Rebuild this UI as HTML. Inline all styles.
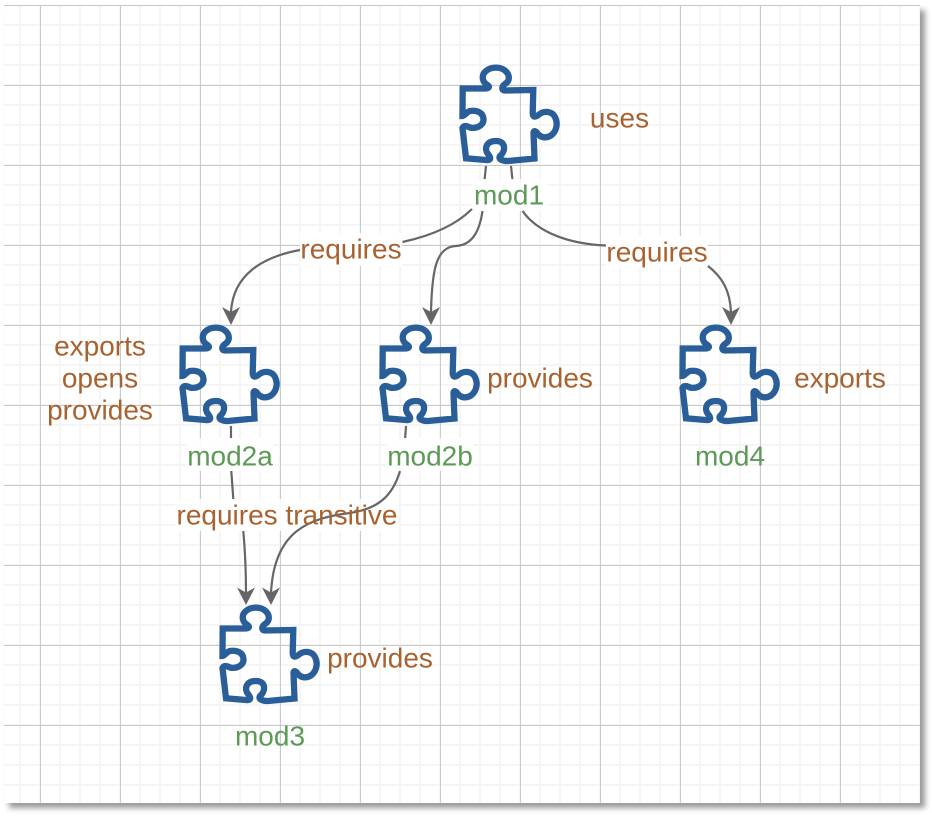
<!DOCTYPE html>
<html>
<head>
<meta charset="utf-8">
<style>
html,body{margin:0;padding:0;background:#fff;width:932px;height:816px;overflow:hidden}
svg{position:absolute;left:0;top:0;display:block}
text{font-family:"Liberation Sans",Arial,sans-serif;font-size:28px;text-anchor:middle}
.b{fill:#a8622f}
.g{fill:#5c9a55}
.c{fill:none;stroke:#666;stroke-width:2.2}
.a{fill:#666;stroke:none}
</style>
</head>
<body>
<svg width="932" height="816" viewBox="0 0 932 816" xmlns="http://www.w3.org/2000/svg">
<defs>
<pattern id="minor" width="20" height="20" patternUnits="userSpaceOnUse" patternTransform="translate(19 4)">
<rect x="0" y="0" width="2" height="20" fill="#f5f5f5"/>
<rect x="0" y="0" width="20" height="2" fill="#f5f5f5"/>
</pattern>
<pattern id="major" width="80" height="80" patternUnits="userSpaceOnUse" patternTransform="translate(40 5)">
<rect x="0" y="0" width="1" height="80" fill="#c9c9c9"/>
<rect x="0" y="0" width="80" height="1" fill="#c9c9c9"/>
</pattern>
<filter id="sh" x="-3%" y="-3%" width="108%" height="108%">
<feGaussianBlur stdDeviation="3"/>
</filter>
<path id="pz" d="M22.700 38.500 L45 38.500 C49 38.500 50 37 47.500 35 C42 32 41 25 46 21 C51 16.500 61 16.500 65.500 21 C70 25 70 31 65 34 C62 36 61 40 64.500 40.500 L93.300 40 L92.700 63 C93 68 96 67 99 64.500 C104 60.500 112 61 115 67 C118 73 117 81 111 85.500 C105 89 100 87 97.500 83.500 C96 81 93.500 80 93.500 83 L94.500 108.500 L68 111 C62 111 58 109 60 106 C66 101 66 91 56 91 C46 91 44 99 48 104 C52 109 50 110.500 46 110 L26 108.300 L22.500 78 C24 75 27 76 30 77.500 C37 79 44 75 43.500 69 C43 62 36 60 30 61 C27 61.500 24.500 66 22.500 66 Z" fill="none" stroke="#2a5e98" stroke-width="6.300" stroke-linejoin="miter"/>
</defs>

<rect x="9" y="10" width="916" height="798" fill="#555" opacity=".6" filter="url(#sh)"/>
<rect x="4" y="5" width="916" height="798" fill="#fff"/>
<rect x="4" y="5" width="916" height="798" fill="url(#minor)"/>
<rect x="4" y="5" width="916" height="798" fill="url(#major)"/>

<use href="#pz" x="440" y="50"/>
<use href="#pz" x="160" y="310"/>
<use href="#pz" x="360" y="310"/>
<use href="#pz" x="660" y="310"/>
<use href="#pz" x="200" y="590"/>

<!-- stubs -->
<path class="c" d="M486 166L484.500 180M511 166L512.500 180M231 426V440M406 426L405 440"/>

<!-- label backgrounds -->
<g fill="#fff" opacity=".92">
<rect x="472" y="179" width="76" height="32"/>
<rect x="187" y="438" width="87" height="33"/>
<rect x="387" y="438" width="87" height="33"/>
<rect x="175" y="499" width="224" height="32"/>
<rect x="300" y="233" width="102" height="33"/>
<rect x="606" y="236" width="102" height="31"/>
</g>

<!-- connectors -->
<path class="c" d="M472 209C455 226 430 236 402.500 242"/>
<path class="c" d="M300 250C262 257 233 275 231 312"/>
<path class="c" d="M482.500 211C480 228 474 245 456 246C436 247 432 270 431 312"/>
<path class="c" d="M522.500 211C538 233 570 244 606 245.500"/>
<path class="c" d="M708 266C722 277 730 290 731 312"/>
<path class="c" d="M231.300 471L233.300 499M243.300 531C245 550 246 570 246 593"/>
<path class="c" d="M400 471C392 498 376 509 350 513C310 518 274 530 271 593"/>

<path class="a" d="M231 325L222 307L231 312L240 307Z"/>
<path class="a" d="M431 325L422 307L431 312L440 307Z"/>
<path class="a" d="M731 325L722 307L731 312L740 307Z"/>
<path class="a" d="M246 605L237 587.500L246 592.500L255 587.500Z"/>
<path class="a" d="M271 605L262 587.500L271 592.500L280 587.500Z"/>

<!-- labels -->
<text class="b" x="619.500" y="127.500">uses</text>
<text class="g" x="509" y="204.500">mod1</text>
<text class="b" x="351" y="258.500">requires</text>
<text class="b" x="657" y="261.500">requires</text>
<text class="b" x="100" y="355.500">exports</text>
<text class="b" x="100" y="387.500">opens</text>
<text class="b" x="100" y="419.500">provides</text>
<text class="b" x="540" y="387.500">provides</text>
<text class="b" x="840" y="387.500">exports</text>
<text class="g" x="230" y="465.500">mod2a</text>
<text class="g" x="430" y="465.500">mod2b</text>
<text class="g" x="730" y="465.500">mod4</text>
<text class="b" x="287" y="524.500">requires transitive</text>
<text class="b" x="380" y="667.500">provides</text>
<text class="g" x="270" y="745.500">mod3</text>
</svg>
</body>
</html>
